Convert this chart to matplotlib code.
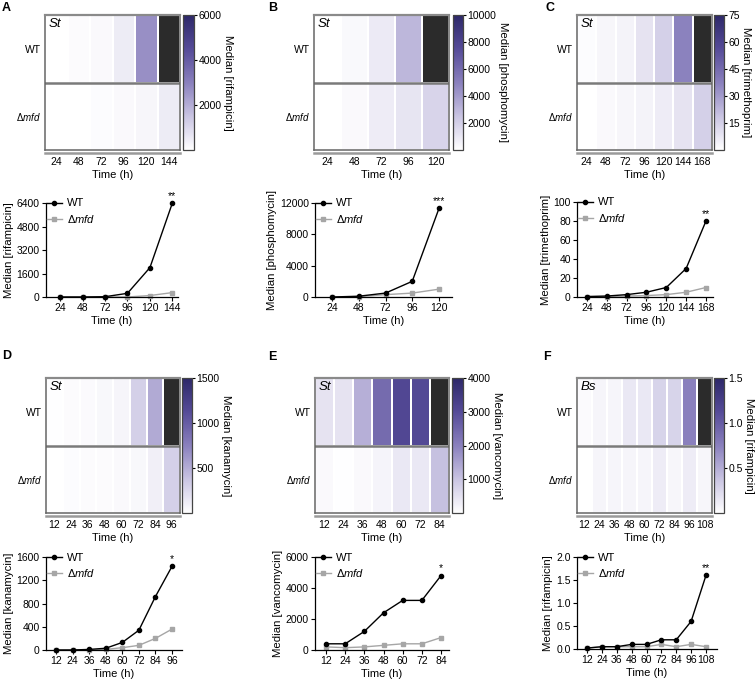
import numpy as np
import matplotlib.pyplot as plt
from matplotlib.colors import LinearSegmentedColormap, Normalize
from matplotlib.cm import ScalarMappable

plt.rcParams['font.family'] = ['Liberation Sans', 'DejaVu Sans']
plt.rcParams['font.size'] = 7.5
plt.rcParams['mathtext.fontset'] = 'custom'
plt.rcParams['mathtext.rm'] = 'Liberation Sans'
plt.rcParams['mathtext.it'] = 'Liberation Sans:italic'

# ---- data ----
time_A = [24, 48, 72, 96, 120, 144]
wt_A = [0, 0, 20, 250, 2000, 6400]
mfd_A = [0, 0, 0, 0, 100, 300]
heat_wt_A = [0, 100, 150, 500, 2650, 6400]
heat_mfd_A = [0, 20, 80, 150, 250, 500]

time_B = [24, 48, 72, 96, 120]
wt_B = [0, 100, 500, 2000, 11300]
mfd_B = [0, 50, 300, 500, 1000]
heat_wt_B = [0, 300, 900, 3000, 11300]
heat_mfd_B = [0, 250, 800, 1100, 1800]

time_C = [24, 48, 72, 96, 120, 144, 168]
wt_C = [0.5, 1, 2.5, 5, 10, 30, 80]
mfd_C = [0.3, 0.5, 1, 1.5, 2.5, 5, 10]
heat_wt_C = [1, 3, 4, 9, 15, 37, 80]
heat_mfd_C = [0, 2, 3, 4, 6, 9, 15]

time_D = [12, 24, 36, 48, 60, 72, 84, 96]
wt_D = [0, 0, 10, 30, 130, 340, 920, 1440]
mfd_D = [0, 0, 0, 10, 40, 80, 200, 360]
heat_wt_D = [10, 25, 30, 50, 70, 300, 520, 1550]
heat_mfd_D = [0, 20, 25, 25, 40, 50, 100, 300]

time_E = [12, 24, 36, 48, 60, 72, 84]
wt_E = [400, 400, 1200, 2400, 3200, 3200, 4800]
mfd_E = [200, 150, 200, 300, 400, 400, 800]
heat_wt_E = [480, 480, 1300, 2400, 3100, 3050, 4800]
heat_mfd_E = [100, 20, 100, 200, 400, 400, 1050]

time_F = [12, 24, 36, 48, 60, 72, 84, 96, 108]
wt_F = [0.02, 0.05, 0.05, 0.1, 0.1, 0.2, 0.2, 0.6, 1.6]
mfd_F = [0.02, 0.05, 0.05, 0.05, 0.05, 0.1, 0.05, 0.1, 0.05]
heat_wt_F = [0.03, 0.07, 0.07, 0.15, 0.15, 0.28, 0.28, 0.75, 1.6]
heat_mfd_F = [0, 0.07, 0.07, 0.07, 0.07, 0.12, 0.06, 0.12, 0.06]

drugs = ['rifampicin', 'phosphomycin', 'trimethoprim', 'kanamycin', 'vancomycin', 'rifampicin']
species = ['St', 'St', 'St', 'St', 'St', 'Bs']
stars = ['**', '***', '**', '*', '*', '**']
cbar_ticks = [[2000, 4000, 6000], [2000, 4000, 6000, 8000, 10000], [15, 30, 45, 60, 75],
              [500, 1000, 1500], [1000, 2000, 3000, 4000], [0.5, 1.0, 1.5]]
line_yticks = [[0, 1600, 3200, 4800, 6400], [0, 4000, 8000, 12000], [0, 20, 40, 60, 80, 100],
               [0, 400, 800, 1200, 1600], [0, 2000, 4000, 6000], [0, 0.5, 1.0, 1.5, 2.0]]
line_yfmt = ['%d', '%d', '%d', '%d', '%d', '%.1f']

times = [time_A, time_B, time_C, time_D, time_E, time_F]
wts = [wt_A, wt_B, wt_C, wt_D, wt_E, wt_F]
mfds = [mfd_A, mfd_B, mfd_C, mfd_D, mfd_E, mfd_F]
heat_wts = [heat_wt_A, heat_wt_B, heat_wt_C, heat_wt_D, heat_wt_E, heat_wt_F]
heat_mfds = [heat_mfd_A, heat_mfd_B, heat_mfd_C, heat_mfd_D, heat_mfd_E, heat_mfd_F]

# ---- layout in pixels (left, top, right, bottom) ----
W, H = 756, 680
heat_box = [(45, 15, 180, 150), (314, 15, 449, 150), (577, 15, 712, 150),
            (46, 378, 180, 513), (315, 378, 449, 513), (577, 378, 712, 513)]
cbar_box = [(183, 15, 194, 150), (453, 15, 463, 150), (714, 15, 724, 150),
            (182, 378, 192, 513), (452, 378, 463, 513), (714, 378, 724, 513)]
line_box = [(46, 203, 178, 297), (315, 203, 452, 297), (577, 202, 713, 297),
            (46, 557, 182, 650), (315, 557, 449, 650), (577, 557, 717, 649)]
line_xlim = [(9, 150), (8.7, 131.7), (12, 176.5), (4.8, 103.2), (5.1, 89), (3.9, 116.9)]
letter_pos = [(2, 2), (268, 2), (545, 2), (2, 350), (268, 351), (543, 351)]


def px(box):
    l, t, r, b = box
    return [l / W, 1 - b / H, (r - l) / W, (b - t) / H]


cmap = LinearSegmentedColormap.from_list(
    'purp', [(0, '#ffffff'), (0.25, '#c9c4e2'), (0.5, '#8a80bd'),
             (0.75, '#554b98'), (1, '#2d2868')])
cmap.set_over('#2b2b2b')

mfd_label = r'$\Delta\mathit{mfd}$'

fig = plt.figure(figsize=(W / 100, H / 100), dpi=100)

for i in range(6):
    t = times[i]
    n = len(t)
    vmax = cbar_ticks[i][-1]
    norm = Normalize(0, vmax)

    # heatmap
    ax = fig.add_axes(px(heat_box[i]))
    data = np.array([heat_wts[i], heat_mfds[i]])
    ax.pcolormesh(np.arange(n + 1), [0, 1, 2], data, cmap=cmap, norm=norm,
                  edgecolors='white', linewidth=1.4)
    ax.set_xlim(0, n)
    ax.set_ylim(2, 0)
    ax.axhline(1, color='#7a7a7a', lw=1.8)
    for s in ax.spines.values():
        s.set_color('#666666')
        s.set_linewidth(1.1)
    ax.spines['top'].set_color('#8a8a8a')
    ax.spines['top'].set_linewidth(1.6)
    ax.plot([0, 1], [-0.025, -0.025], transform=ax.transAxes, clip_on=False,
            color='#9a9a9a', lw=1.8)
    ax.set_xticks(np.arange(n) + 0.5)
    ax.set_xticklabels([str(v) for v in t])
    ax.set_yticks([0.5, 1.5])
    ax.set_yticklabels(['WT', mfd_label])
    ax.get_yticklabels()[1].set_fontsize(7)
    ax.tick_params(axis='both', length=0)
    ax.tick_params(axis='x', pad=5)
    ax.tick_params(axis='y', pad=3)
    ax.set_xlabel('Time (h)', fontsize=8, labelpad=2)
    ax.text(0.03, 0.975, species[i], transform=ax.transAxes, style='italic',
            fontsize=9.5, va='top', ha='left')

    # colorbar
    cax = fig.add_axes(px(cbar_box[i]))
    cb = fig.colorbar(ScalarMappable(norm=norm, cmap=cmap), cax=cax)
    cb.set_ticks(cbar_ticks[i])
    if i == 5:
        cb.set_ticklabels(['%.1f' % v for v in cbar_ticks[i]])
    cb.outline.set_edgecolor('#444444')
    cb.outline.set_linewidth(0.9)
    cax.tick_params(length=2, width=0.8, pad=1.2, labelsize=7.5)
    cax.set_ylabel('Median [%s]' % drugs[i], rotation=270, va='bottom', fontsize=8.2,
                   labelpad=1)

    # line plot
    lx = fig.add_axes(px(line_box[i]))
    lx.plot(t, wts[i], '-o', color='black', ms=3, lw=1, clip_on=False, label='WT', zorder=3)
    lx.plot(t, mfds[i], '-s', color='#a6a6a6', ms=3, lw=1, clip_on=False, label=mfd_label, zorder=2)
    lx.set_xlim(*line_xlim[i])
    lx.set_ylim(0, line_yticks[i][-1])
    lx.set_xticks(t)
    lx.set_yticks(line_yticks[i])
    lx.set_yticklabels([line_yfmt[i] % v for v in line_yticks[i]])
    lx.spines['top'].set_visible(False)
    lx.spines['right'].set_visible(False)
    lx.spines['left'].set_linewidth(0.9)
    lx.spines['bottom'].set_linewidth(0.9)
    lx.tick_params(length=3, width=0.8, pad=1.5, labelsize=7.5)
    lx.set_xlabel('Time (h)', fontsize=8, labelpad=2)
    lx.set_ylabel('Median [%s]' % drugs[i], fontsize=8.2, labelpad=2)
    lx.legend(loc='upper left', bbox_to_anchor=(0.0, 1.06), frameon=False, fontsize=8,
              handlelength=1.3, handletextpad=0.5, labelspacing=0.4, borderaxespad=0,
              borderpad=0.1)
    lx.annotate(stars[i], (t[-1], wts[i][-1]), xytext=(0, 1.5), textcoords='offset points',
                ha='center', va='bottom', fontsize=7.5, annotation_clip=False)

    lxp, lyp = letter_pos[i]
    fig.text(lxp / W, 1 - lyp / H, 'ABCDEF'[i], weight='bold', fontsize=9,
             va='top', ha='left')

plt.savefig('out.png', dpi=100)
plt.close()
